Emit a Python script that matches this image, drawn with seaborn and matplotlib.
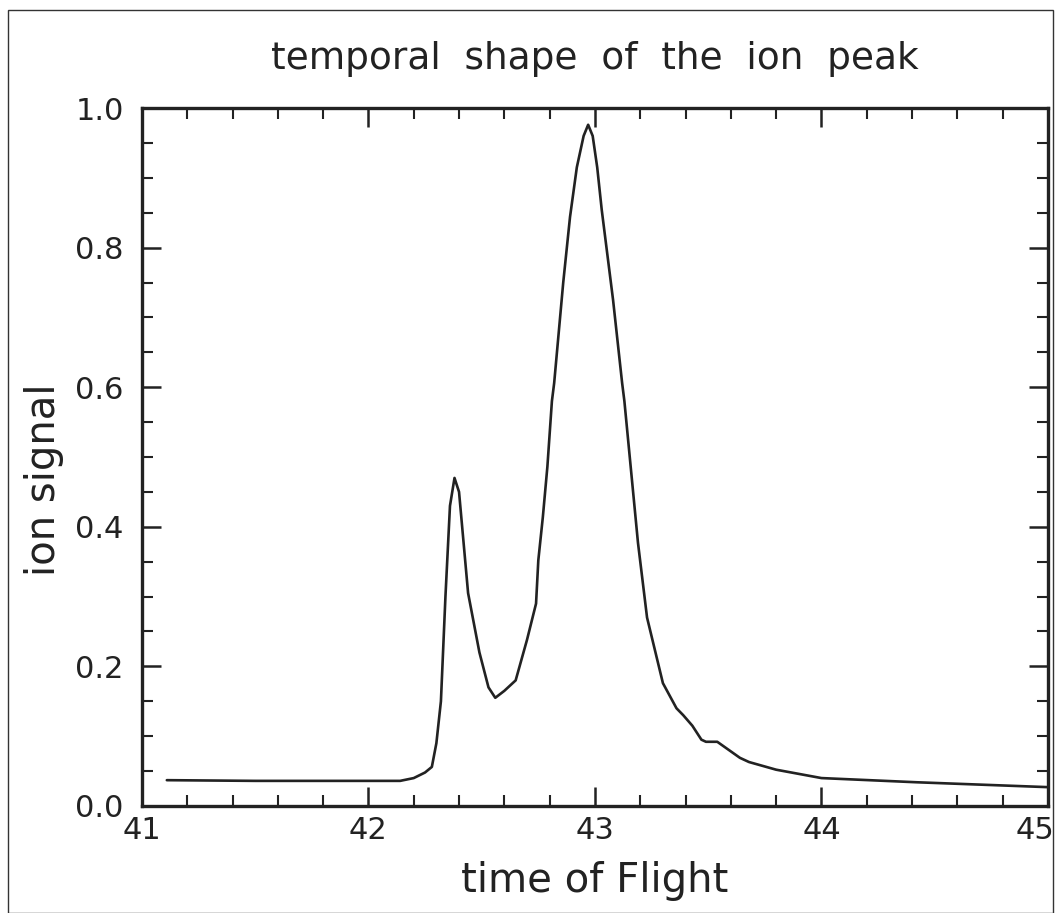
import seaborn as sns
import matplotlib.pyplot as plt
import matplotlib.patches as patches
import matplotlib.transforms as mtransforms
from matplotlib.ticker import MultipleLocator, FormatStrFormatter
import pandas as pd

# values
time_of_flight = [41.11, 41.5, 42.0, 42.14, 42.2, 42.25, 42.28, 42.3, 42.32, 42.34,
                  42.36, 42.38, 42.40, 42.44, 42.49, 42.53, 42.56, 42.60, 42.65,
                  42.70, 42.74, 42.75, 42.77, 42.79, 42.81, 42.82, 42.86, 42.89,
                  42.92, 42.95, 42.97, 42.99, 43.01, 43.03, 43.08, 43.12, 43.13,
                  43.19, 43.23, 43.30, 43.36, 43.39, 43.43, 43.47, 43.49, 43.54,
                  43.64, 43.68, 43.8, 44.0, 44.42, 45.0]
ion_signal = [0.037, 0.036, 0.036, 0.036, 0.040, 0.048, 0.056, 0.09, 0.15, 0.30,
              0.43, 0.47, 0.45, 0.305, 0.22, 0.17, 0.155, 0.165, 0.18,
              0.238, 0.29, 0.352, 0.414, 0.486, 0.58, 0.606, 0.75, 0.844,
              0.915, 0.96, 0.976, 0.96, 0.915, 0.854, 0.725, 0.606, 0.58,
              0.377, 0.27, 0.176, 0.14, 0.13, 0.115, 0.095, 0.092, 0.092,
              0.069, 0.063, 0.052, 0.040, 0.034, 0.027]

df = pd.DataFrame({'time of Flight': time_of_flight, 'ion signal': ion_signal})

sns.set_style('ticks')
plt.rcParams['font.family'] = ['DejaVu Sans']

fig = plt.figure(figsize=(10.59, 9.13), dpi=100)
ax = fig.add_axes([0.134, 0.1172, 0.8556, 0.7645])

sns.lineplot(x='time of Flight', y='ion signal', data=df, ax=ax,
             color='#222222', linewidth=1.9)

ax.set_xlim(41, 45)
ax.set_ylim(0, 1.0)
ax.set_xticks([41, 42, 43, 44, 45])
ax.xaxis.set_minor_locator(MultipleLocator(0.2))
ax.set_yticks([0.0, 0.2, 0.4, 0.6, 0.8, 1.0])
ax.yaxis.set_minor_locator(MultipleLocator(0.05))
ax.yaxis.set_major_formatter(FormatStrFormatter('%.1f'))
ax.xaxis.set_major_formatter(FormatStrFormatter('%d'))

ax.tick_params(which='both', direction='in', top=True, right=True,
               colors='#222222', labelsize=22)
ax.tick_params(which='major', length=14, width=1.8)
ax.tick_params(which='minor', length=8, width=1.5)
ax.tick_params(axis='x', pad=7)
ax.tick_params(axis='y', pad=13)
for s in ax.spines.values():
    s.set_linewidth(2.4)
    s.set_color('#222222')

ax.set_xlabel('time of Flight', fontsize=29, color='#222222', labelpad=12)
ax.set_ylabel('ion signal', fontsize=29, color='#222222')
ax.yaxis.set_label_coords(-0.086, 0.467)
ax.set_title('temporal  shape  of  the  ion  peak', fontsize=27, color='#222222', pad=28)

# the 45 label sits a bit left so it stays inside the picture
fig.canvas.draw()
shift = mtransforms.ScaledTranslation(-13 / 100, 0, fig.dpi_scale_trans)
for tick in ax.xaxis.get_major_ticks():
    if tick.label1.get_text() == '45':
        tick.label1.set_transform(tick.label1.get_transform() + shift)

# thin frame around the whole picture
fig.patches.append(patches.Rectangle((0.008, 0.0), 0.986, 0.989, transform=fig.transFigure,
                                     fill=False, edgecolor='#333333', linewidth=1.0))

fig.savefig('out.png', dpi=100)
